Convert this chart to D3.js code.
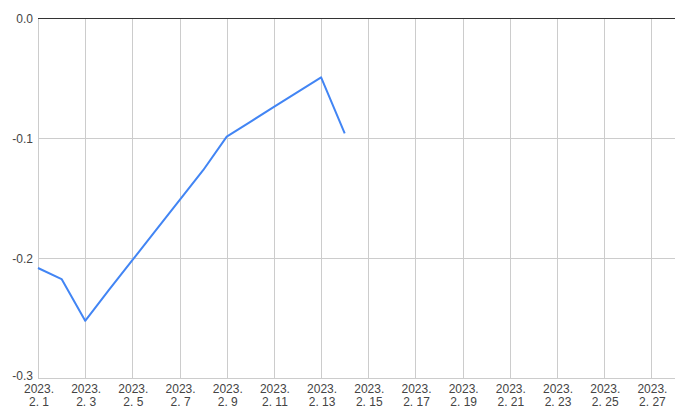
<!DOCTYPE html>
<html>
<head>
<meta charset="utf-8">
<script src="https://cdn.jsdelivr.net/npm/d3@7"></script>
<style>
  body { margin: 0; background: #fff; }
  svg text { font-family: Arial, "Liberation Sans", sans-serif; font-size: 12px; fill: #444; }
</style>
</head>
<body>
<svg id="chart" width="685" height="416"></svg>
<script>
// daily values, February 2023 (day of month -> value)
var days = [1, 2, 3, 4, 5, 6, 7, 8, 9, 10, 11, 12, 13, 14];
var values = [-0.2075, -0.2167, -0.2515, -0.226, -0.201, -0.176, -0.151, -0.126, -0.098, -0.0857, -0.0733, -0.061, -0.0486, -0.0953];

// axis ticks
var tickDays = [1, 3, 5, 7, 9, 11, 13, 15, 17, 19, 21, 23, 25, 27];
var yTicks = [0, -0.1, -0.2, -0.3];

var margin = { left: 38, right: 10, top: 19, bottom: 37 };
var width = 685, height = 416;

var svg = d3.select("#chart");

var x = d3.scaleUtc()
  .domain([new Date(Date.UTC(2023, 1, 1)), new Date(Date.UTC(2023, 1, 28))])
  .range([margin.left, width - margin.right]);

var y = d3.scaleLinear()
  .domain([-0.3, 0])
  .range([height - margin.bottom, margin.top]);

function dayDate(d) { return new Date(Date.UTC(2023, 1, d)); }

// vertical gridlines
svg.append("g")
  .selectAll("line")
  .data(tickDays)
  .join("line")
  .attr("x1", function (d) { return Math.round(x(dayDate(d))) + 0.5; })
  .attr("x2", function (d) { return Math.round(x(dayDate(d))) + 0.5; })
  .attr("y1", y(0))
  .attr("y2", y(-0.3))
  .attr("stroke", "#cccccc")
  .attr("stroke-width", 1);

// horizontal gridlines
svg.append("g")
  .selectAll("line")
  .data(yTicks.filter(function (d) { return d !== 0; }))
  .join("line")
  .attr("x1", margin.left)
  .attr("x2", width - margin.right)
  .attr("y1", function (d) { return Math.round(y(d)) - 0.5; })
  .attr("y2", function (d) { return Math.round(y(d)) - 0.5; })
  .attr("stroke", "#cccccc")
  .attr("stroke-width", 1);

// series line
var line = d3.line()
  .x(function (d, i) { return x(dayDate(days[i])); })
  .y(function (d) { return y(d); });

svg.append("path")
  .datum(values)
  .attr("d", line)
  .attr("fill", "none")
  .attr("stroke", "#4285f4")
  .attr("stroke-width", 2)
  .attr("stroke-linejoin", "round");

// zero baseline
svg.append("line")
  .attr("x1", margin.left)
  .attr("x2", width - margin.right)
  .attr("y1", Math.round(y(0)) - 0.5)
  .attr("y2", Math.round(y(0)) - 0.5)
  .attr("stroke", "#333333")
  .attr("stroke-width", 1);

// y labels (bottom one nudged up so it clears the date labels)
svg.append("g")
  .selectAll("text")
  .data(yTicks)
  .join("text")
  .attr("x", margin.left - 5)
  .attr("y", function (d) { return y(d) + (d === -0.3 ? 1 : 4); })
  .attr("text-anchor", "end")
  .text(function (d) { return d3.format(".1f")(d).replace("−", "-"); });

// x labels, year line and month/day line
var xAxis = svg.append("g");

xAxis.selectAll("text.year")
  .data(tickDays)
  .join("text")
  .attr("class", "year")
  .attr("text-anchor", "middle")
  .attr("x", function (d) { return x(dayDate(d)) + 1; })
  .attr("y", 393)
  .text("2023.");

xAxis.selectAll("text.day")
  .data(tickDays)
  .join("text")
  .attr("class", "day")
  .attr("text-anchor", "middle")
  .attr("x", function (d) { return x(dayDate(d)) + 1; })
  .attr("y", 406)
  .text(function (d) { return "2. " + d; });
</script>
</body>
</html>
